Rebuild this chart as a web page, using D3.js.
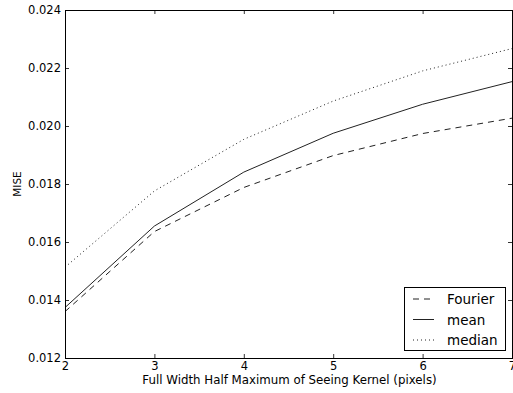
<!DOCTYPE html>
<html>
<head>
<meta charset="utf-8">
<script src="https://cdn.jsdelivr.net/npm/d3@7"></script>
<style>
  html, body { margin: 0; padding: 0; background: #fff; }
  svg { display: block; font-family: "DejaVu Sans", sans-serif; }
</style>
</head>
<body>
<svg id="chart" width="513" height="393"></svg>
<script>
// Kernel widths (FWHM, pixels)
const fwhm = [2, 3, 4, 5, 6, 7];
// MISE per estimator
const fourier = [0.01360, 0.01636, 0.01788, 0.01898, 0.01974, 0.02027];
const mean    = [0.01374, 0.01655, 0.01841, 0.01975, 0.02075, 0.02153];
const median  = [0.01513, 0.01776, 0.01954, 0.02086, 0.02190, 0.02267];
const xTicks = [2, 3, 4, 5, 6, 7];
const yTicks = [0.012, 0.014, 0.016, 0.018, 0.020, 0.022, 0.024];

const series = [
  { name: "Fourier", values: fourier, dash: "6,5", color: "#222" },
  { name: "mean", values: mean, dash: null, color: "#222" },
  { name: "median", values: median, dash: "1,3", color: "#222" }
];

const svg = d3.select("#chart");
const plotL = 65, plotR = 512, plotT = 10, plotB = 358;

const x = d3.scaleLinear().domain([2, 7]).range([plotL, plotR]);
const y = d3.scaleLinear().domain([0.012, 0.024]).range([plotB, plotT]);

// Lines
const line = d3.line()
  .x((d, i) => x(fwhm[i]))
  .y(d => y(d));

svg.append("clipPath").attr("id", "plotclip")
  .append("rect").attr("x", plotL).attr("y", plotT)
  .attr("width", plotR - plotL).attr("height", plotB - plotT);

series.forEach(s => {
  svg.append("path")
    .datum(s.values)
    .attr("clip-path", "url(#plotclip)")
    .attr("fill", "none")
    .attr("stroke", s.color)
    .attr("stroke-width", 1)
    .attr("stroke-dasharray", s.dash)
    .attr("d", line);
});

// Axes: ticks point inward on all four sides
const tickLen = 4;
const xAxisB = d3.axisBottom(x).tickValues(xTicks).tickFormat(d3.format("d")).tickSize(-tickLen).tickPadding(3.5);
const xAxisT = d3.axisTop(x).tickValues(xTicks).tickFormat("").tickSize(-tickLen);
const yAxisL = d3.axisLeft(y).tickValues(yTicks).tickFormat(d3.format(".3f")).tickSize(-tickLen).tickPadding(4);
const yAxisR = d3.axisRight(y).tickValues(yTicks).tickFormat("").tickSize(-tickLen);

function style(g) {
  g.select(".domain").remove();
  g.selectAll(".tick line").attr("stroke", "#000").attr("stroke-width", 0.8);
  g.selectAll(".tick text").attr("fill", "#000").attr("font-size", 11.5)
    .attr("font-family", "DejaVu Sans, sans-serif");
}

svg.append("g").attr("transform", `translate(0,${plotB})`).call(xAxisB).call(style);
svg.append("g").attr("transform", `translate(0,${plotT})`).call(xAxisT).call(style);
svg.append("g").attr("transform", `translate(${plotL},0)`).call(yAxisL).call(style);
svg.append("g").attr("transform", `translate(${plotR},0)`).call(yAxisR).call(style);

// Frame
svg.append("rect")
  .attr("x", plotL + 0.5).attr("y", plotT + 0.5)
  .attr("width", plotR - plotL).attr("height", plotB - plotT)
  .attr("fill", "none").attr("stroke", "#000").attr("stroke-width", 1);

// Axis titles
svg.append("text")
  .attr("x", 289.5).attr("y", 384)
  .attr("text-anchor", "middle").attr("font-size", 11.8)
  .text("Full Width Half Maximum of Seeing Kernel (pixels)");

svg.append("text")
  .attr("transform", `translate(21,${(plotT + plotB) / 2}) rotate(-90)`)
  .attr("text-anchor", "middle").attr("font-size", 10.5)
  .text("MISE");

// Legend
const lg = svg.append("g");
lg.append("rect")
  .attr("x", 404.5).attr("y", 287.5).attr("width", 101).attr("height", 63)
  .attr("fill", "#fff").attr("stroke", "#000").attr("stroke-width", 1);

series.forEach((s, i) => {
  const cy = 299 + i * 20.5;
  lg.append("line")
    .attr("x1", 413).attr("x2", 434).attr("y1", cy).attr("y2", cy)
    .attr("stroke", s.color).attr("stroke-width", 1)
    .attr("stroke-dasharray", s.dash);
  lg.append("text")
    .attr("x", 447).attr("y", cy + 5)
    .attr("font-size", 13.5)
    .text(s.name);
});
</script>
</body>
</html>
